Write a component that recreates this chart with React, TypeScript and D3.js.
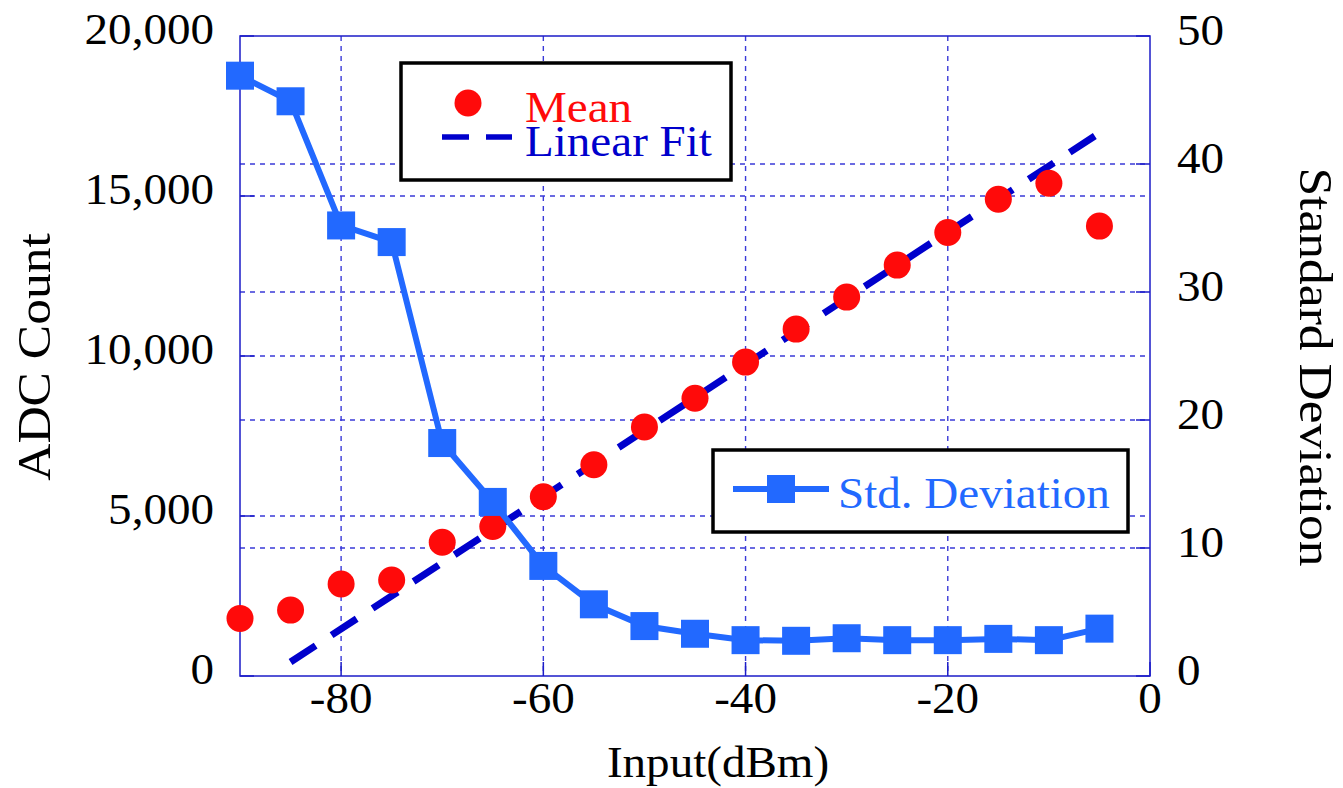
import React from 'react';
import * as d3 from 'd3';

// input power levels (dBm)
const inputDbm = [-90, -85, -80, -75, -70, -65, -60, -55, -50, -45, -40, -35, -30, -25, -20, -15, -10, -5];
// mean ADC count (left axis)
const meanCounts = [1800, 2060, 2875, 3000, 4180, 4670, 5600, 6600, 7780, 8680, 9810, 10840, 11840, 12840, 13860, 14900, 15400, 14060];
// standard deviation (right axis)
const stdDev = [46.9, 44.9, 35.2, 33.9, 18.2, 13.6, 8.6, 5.6, 3.9, 3.3, 2.8, 2.75, 2.95, 2.8, 2.8, 2.9, 2.8, 3.7];
// linear fit end points
const fitX = [-85, -5];
const fitY = [437, 16970];

const xTicks = [-80, -60, -40, -20, 0];
const leftTicks = [0, 5000, 10000, 15000, 20000];
const rightTicks = [0, 10, 20, 30, 40, 50];

const W = 1343;
const H = 788;
const plot = { left: 240, right: 1150, top: 36, bottom: 676 };

const FONT = '"Liberation Serif", "Times New Roman", serif';
const FS = 44;
const SX = 1.07;

const RED = '#ff0a0a';
const STD_BLUE = '#2269ff';
const FIT_BLUE = '#0000cc';
const GRID = '#3a3ad8';
const FRAME = '#1c1cc8';

const Txt = ({ x, y, anchor = 'start', fill = '#000', children }: any) => (
  <text
    transform={`translate(${x},${y}) scale(${SX},1)`}
    textAnchor={anchor}
    fill={fill}
    fontFamily={FONT}
    fontSize={FS}
  >
    {children}
  </text>
);

// rotated axis title, stretched a little along its length like the original
const VTxt = ({ x, y, rotate, children }: any) => (
  <text
    transform={`translate(${x},${y}) rotate(${rotate}) scale(1.12,1)`}
    textAnchor="middle"
    fill="#000"
    fontFamily={FONT}
    fontSize={46}
  >
    {children}
  </text>
);

export default function App() {
  const x = d3.scaleLinear().domain([-90, 0]).range([plot.left, plot.right]);
  const yL = d3.scaleLinear().domain([0, 20000]).range([plot.bottom, plot.top]);
  const yR = d3.scaleLinear().domain([0, 50]).range([plot.bottom, plot.top]);
  const fmt = d3.format(',');

  const stdLine = d3
    .line<number>()
    .x((_, i) => x(inputDbm[i]))
    .y((d) => yR(d));
  const fitLine = d3
    .line<number>()
    .x((_, i) => x(fitX[i]))
    .y((d) => yL(d));

  const sq = 28;

  return (
    <svg width={W} height={H} style={{ position: 'absolute', left: 0, top: 0, background: '#fff' }}>
      {/* grid */}
      <g stroke={GRID} strokeWidth={1.4} strokeDasharray="5,5" fill="none">
        {xTicks.filter((t) => t > -90 && t < 0).map((t) => (
          <line key={'vx' + t} x1={x(t)} x2={x(t)} y1={plot.top} y2={plot.bottom} />
        ))}
        {leftTicks.filter((t) => t > 0 && t < 20000).map((t) => (
          <line key={'hl' + t} x1={plot.left} x2={plot.right} y1={yL(t)} y2={yL(t)} />
        ))}
        {rightTicks.filter((t) => t > 0 && t < 50).map((t) => (
          <line key={'hr' + t} x1={plot.left} x2={plot.right} y1={yR(t)} y2={yR(t)} />
        ))}
      </g>
      {/* ticks */}
      <g stroke={FRAME} strokeWidth={1.5}>
        {xTicks.map((t) => (
          <line key={'tx' + t} x1={x(t)} x2={x(t)} y1={plot.bottom} y2={plot.bottom - 14} />
        ))}
        {leftTicks.map((t) => (
          <line key={'tl' + t} x1={plot.left} x2={plot.left + 14} y1={yL(t)} y2={yL(t)} />
        ))}
        {rightTicks.map((t) => (
          <line key={'tr' + t} x1={plot.right} x2={plot.right - 14} y1={yR(t)} y2={yR(t)} />
        ))}
      </g>
      <rect
        x={plot.left}
        y={plot.top}
        width={plot.right - plot.left}
        height={plot.bottom - plot.top}
        fill="none"
        stroke={FRAME}
        strokeWidth={1.5}
      />

      {/* linear fit */}
      <path
        d={fitLine(fitY) || ''}
        fill="none"
        stroke={FIT_BLUE}
        strokeWidth={7}
        strokeDasharray="30,19"
      />
      {/* mean */}
      {meanCounts.map((v, i) => (
        <circle key={'m' + i} cx={x(inputDbm[i])} cy={yL(v)} r={13.5} fill={RED} />
      ))}
      {/* std deviation */}
      <path d={stdLine(stdDev) || ''} fill="none" stroke={STD_BLUE} strokeWidth={6} />
      {stdDev.map((v, i) => (
        <rect
          key={'s' + i}
          x={x(inputDbm[i]) - sq / 2}
          y={yR(v) - sq / 2}
          width={sq}
          height={sq}
          fill={STD_BLUE}
        />
      ))}

      {/* legend 1 */}
      <rect x={401} y={63} width={330} height={117} fill="#fff" stroke="#000" strokeWidth={3.5} />
      <circle cx={468} cy={103} r={13.5} fill={RED} />
      <line x1={442} x2={512} y1={137} y2={137} stroke={FIT_BLUE} strokeWidth={5.5} strokeDasharray="27,17" />
      <Txt x={525} y={122} fill={RED}>Mean</Txt>
      <Txt x={525} y={156} fill={FIT_BLUE}>Linear Fit</Txt>

      {/* legend 2 */}
      <rect x={713} y={450} width={415} height={82} fill="#fff" stroke="#000" strokeWidth={3.5} />
      <line x1={733} x2={829} y1={489} y2={489} stroke={STD_BLUE} strokeWidth={6} />
      <rect x={781 - sq / 2} y={489 - sq / 2} width={sq} height={sq} fill={STD_BLUE} />
      <Txt x={838} y={508} fill={STD_BLUE}>Std. Deviation</Txt>

      {/* tick labels */}
      {xTicks.map((t) => (
        <Txt key={'lx' + t} x={x(t)} y={713} anchor="middle">{t}</Txt>
      ))}
      {leftTicks.map((t) => (
        <Txt key={'ll' + t} x={214} y={yL(t) + 8} anchor="end">{fmt(t)}</Txt>
      ))}
      {rightTicks.map((t) => (
        <Txt key={'lr' + t} x={1177} y={yR(t) + 9}>{t}</Txt>
      ))}

      {/* axis titles */}
      <VTxt x={50} y={357} rotate={-90}>ADC Count</VTxt>
      <VTxt x={1300} y={367} rotate={90}>Standard Deviation</VTxt>
      <Txt x={718} y={777} anchor="middle">Input(dBm)</Txt>
    </svg>
  );
}
